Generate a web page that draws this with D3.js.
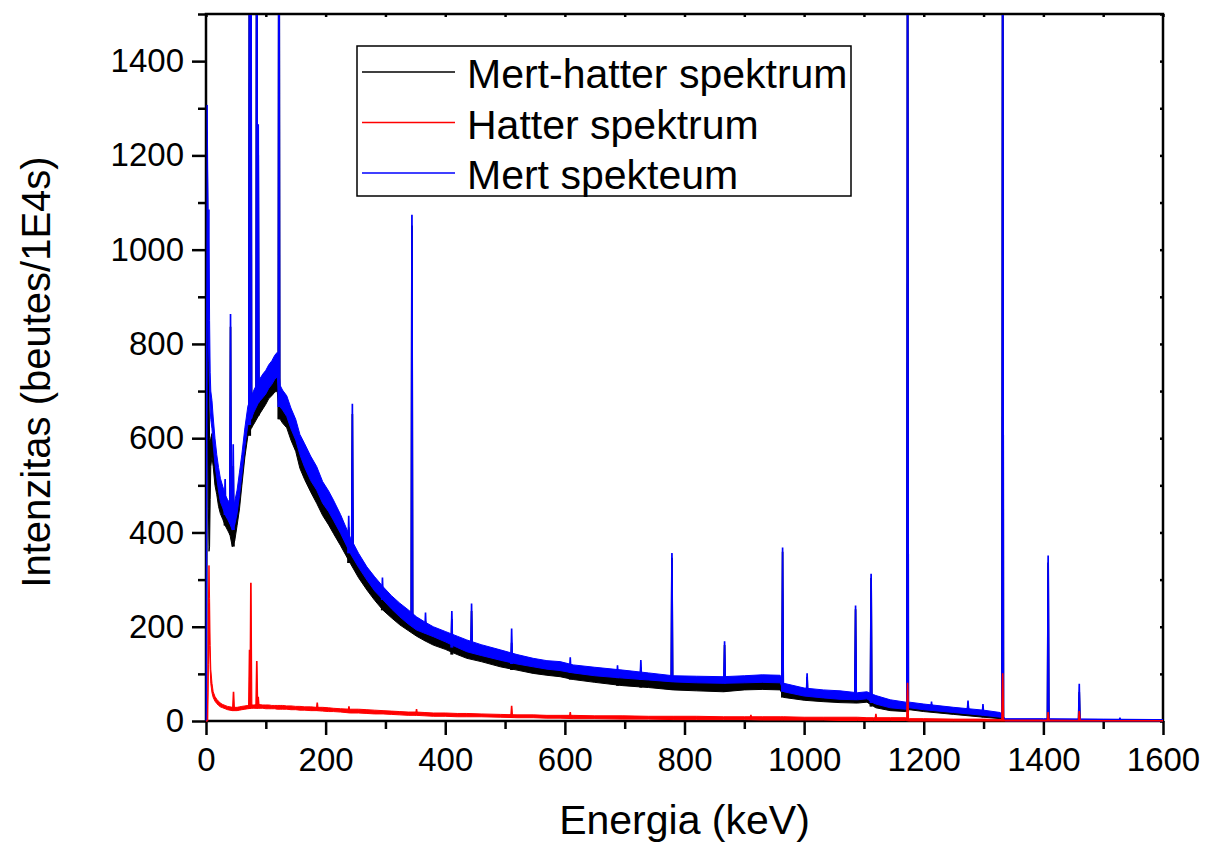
<!DOCTYPE html>
<html>
<head>
<meta charset="utf-8">
<script src="https://cdn.jsdelivr.net/npm/d3@7"></script>
<style>
  body { margin: 0; background: #fff; }
  svg { display: block; font-family: "Liberation Sans", Arial, sans-serif; }
  .axis path { display: none; }
  .axis line { stroke: #000; stroke-width: 2.5; }
  .axis text { font-size: 33px; fill: #000; }
</style>
</head>
<body>
<svg id="chart" width="1205" height="845"></svg>
<script>
var energy = [0,1,2,3,4,5,6,7,8,10,
  12,15,18,21,24,28,32,36,40,44,
  48,52,56,60,65,70,76,80,88,95,
  100,105,110,115,119,124,128,135,142,150,
  157,165,175,185,195,205,213,225,241,255,
  269,282,296,310,324,338,352,366,380,400,
  420,436,460,492,520,547,570,592,614,650,
  697,740,781,820,865,900,930,960,966,1000,
  1032,1060,1089,1105,1116,1120,1144,1170,1176,1200,
  1250,1300,1328,1336,1400,1500,1600];

// measured spectrum (upper / lower edge of the noise band)
var blueHi = [0,700,1307,1150,1000,1085,850,740,700,680,
  645,600,565,538,515,498,480,470,462,455,
  466,490,528,566,622,668,690,702,722,736,
  744,756,764,776,782,712,702,690,664,640,
  608,588,562,540,508,488,469,438,390,356,
  327,306,285,266,250,236,221,210,200,190,
  180,172,162,151,141,133,128,126,119,114,
  108,102,96,95,94,96,98,97,80,70,
  66,64,60,62,56,54,45,40,40,36,
  29,23,18,5,5,4,3];
var blueLo = [0,0,900,850,800,760,700,660,640,620,
  585,545,515,488,465,452,437,428,418,405,
  416,440,478,522,582,628,642,655,676,686,
  694,706,714,725,730,666,660,646,620,596,
  565,538,510,490,462,444,426,398,356,326,
  299,276,257,238,221,206,193,186,179,168,
  156,147,139,129,121,115,110,107,102,96,
  91,87,83,81,80,81,82,81,62,53,
  49,46,45,47,38,36,28,25,28,24,
  18,12,8,0,0,0,0];

// measured minus background
var blackHi = [0,650,1250,1100,900,700,600,590,600,610,
  590,555,525,500,480,465,450,440,433,428,
  438,462,500,538,592,638,660,670,690,704,
  712,724,732,744,750,680,670,660,634,610,
  578,558,532,512,480,460,442,412,365,332,
  303,283,263,245,230,217,202,192,183,173,
  164,156,147,137,128,120,116,114,107,103,
  97,92,86,85,85,87,89,88,71,62,
  58,56,52,55,49,47,38,33,35,31,
  25,19,15,3,3,3,2];
var blackLo = [0,0,700,600,450,360,370,470,540,560,
  540,500,480,455,440,428,415,405,395,370,
  382,415,450,500,560,605,622,630,648,662,
  672,684,690,698,700,640,632,622,596,572,
  536,512,486,462,436,416,398,372,335,304,
  278,256,235,219,204,192,180,170,161,152,
  141,133,126,115,108,101,97,94,88,82,
  75,71,66,64,62,66,67,66,50,44,
  41,39,38,40,31,28,22,20,24,20,
  14,8,5,0,0,0,0];

// background spectrum
var redHi = [0,0,0,60,250,330,260,160,110,80,
  62,52,46,42,38,35,33,31,30,29,
  29,29,30,31,32,33,34,34,35,34,
  34,34,33,33,33,33,33,32,32,31,
  31,30,30,29,29,28,27,26,25,25,
  24,23,22,21,20,19,19,18,17,17,
  16,16,15,14,13,13,12,12,12,11,
  11,10,10,10,9,9,9,9,9,8,
  8,8,8,7,7,7,7,7,5,5,
  4,4,3,2,2,1,1];
var redLo = [0,0,0,0,120,250,160,110,80,60,
  50,42,37,33,30,28,26,24,23,22,
  22,22,23,24,25,26,27,27,27,27,
  26,26,26,26,25,25,25,25,24,24,
  23,23,22,22,21,20,20,19,17,17,
  16,15,15,14,13,12,12,11,10,10,
  9,9,9,8,7,7,6,6,5,5,
  4,4,3,3,3,3,2,2,2,2,
  2,1,1,1,1,1,1,1,0,0,
  0,0,0,0,0,0,0];

// peaks: [energy keV, peak height]
var bluePeaks = [[32,512],[41,862],[45.5,586],[72.8,2000],[75,2000],[84.9,2000],[87.3,1265],
  [122,2000],[238.6,434],[244.7,672],[295,303],[344.3,1073],[367,229],[411,232],[444,248],
  [511,195],[609,134],[688,117],[727,128],[779,355],[867,168],[964,367],[1005,100],
  [1086,244],[1112,311],[1173,2000],[1213,40],[1274,42],[1299,35],[1332,2000],
  [1408,350],[1460,78],[1528,6]];
var blackPeaks = [[32,480],[41,835],[45.5,540],[72.8,2000],[75,1800],[84.9,2000],[87.3,1200],
  [122,2000],[238.6,410],[244.7,650],[295,280],[344.3,1050],[367,210],[411,215],[444,232],
  [511,165],[609,115],[688,100],[727,112],[779,345],[867,160],[964,358],[1005,92],
  [1086,236],[1112,302],[1173,2000],[1213,35],[1274,38],[1299,30],[1332,2000],
  [1408,335],[1460,60]];
var redPeaks = [[46,61],[72.8,150],[75,292],[84.9,126],[87.3,50],[186,38],[239,30],[352,24],
  [511,31],[609,18],[911,12],[1120,14],[1173,80],[1332,100],[1408,18],[1460,20]];

var xTicks = [0,200,400,600,800,1000,1200,1400,1600];
var xMinor = [100,300,500,700,900,1100,1300,1500];
var yTicks = [0,200,400,600,800,1000,1200,1400];
var yMinor = [100,300,500,700,900,1100,1300,1500];

var legendLabels = ["Mert-hatter spektrum", "Hatter spektrum", "Mert spekteum"];
var legendColors = ["#000000", "#ff0000", "#0000ff"];

// margins of the plot frame
var margin = { top: 14, right: 42, bottom: 124, left: 206 };
var width = 1205 - margin.left - margin.right;
var height = 845 - margin.top - margin.bottom;

var svg = d3.select("#chart");
var g = svg.append("g")
    .attr("transform", "translate(" + margin.left + "," + margin.top + ")");

var x = d3.scaleLinear().domain([0, 1600]).range([0, width]);
var y = d3.scaleLinear().domain([0, 1500]).range([height, 0]);

// axes first, the spectra are drawn over them
g.append("g").attr("class", "axis")
    .attr("transform", "translate(0," + height + ")")
    .call(d3.axisBottom(x).tickValues(xMinor).tickSize(8).tickSizeOuter(0).tickFormat(""));
g.append("g").attr("class", "axis")
    .attr("transform", "translate(0," + height + ")")
    .call(d3.axisBottom(x).tickValues(xTicks).tickSize(14).tickSizeOuter(0).tickPadding(13)
      .tickFormat(d3.format("d")));
g.append("g").attr("class", "axis")
    .call(d3.axisLeft(y).tickValues(yMinor).tickSize(8).tickSizeOuter(0).tickFormat(""));
g.append("g").attr("class", "axis")
    .call(d3.axisLeft(y).tickValues(yTicks).tickSize(14).tickSizeOuter(0).tickPadding(8)
      .tickFormat(d3.format("d")));
g.append("g").attr("class", "axis")
    .call(d3.axisTop(x).tickValues(xTicks.concat(xMinor)).tickSize(-3).tickSizeOuter(0).tickFormat(""));
g.append("g").attr("class", "axis")
    .attr("transform", "translate(" + width + ",0)")
    .call(d3.axisRight(y).tickValues(yTicks.concat(yMinor)).tickSize(-3).tickSizeOuter(0).tickFormat(""));

g.append("rect")
    .attr("width", width)
    .attr("height", height)
    .attr("fill", "none")
    .attr("stroke", "#000")
    .attr("stroke-width", 2.5);

g.append("clipPath").attr("id", "clip")
  .append("rect").attr("x", -1).attr("y", 1).attr("width", width + 1).attr("height", height + 1);

var plot = g.append("g").attr("clip-path", "url(#clip)");

var area = d3.area()
    .x(function(d) { return x(d.e); })
    .y0(function(d) { return y(d.lo); })
    .y1(function(d) { return y(d.hi); });

var spikeLine = d3.line()
    .x(function(d) { return x(d[0]); })
    .y(function(d) { return y(d[1]); });

// draws one spectrum: noise band plus its peaks
function drawSeries(hi, lo, peaks, color) {
  var rows = energy.map(function(e, i) { return { e: e, hi: hi[i], lo: lo[i] }; });
  var s = plot.append("g");
  s.append("path")
      .datum(rows)
      .attr("d", area)
      .attr("fill", color)
      .attr("stroke", color)
      .attr("stroke-width", 1)
      .attr("stroke-linejoin", "round");
  s.selectAll("path.peak")
      .data(peaks)
    .enter().append("path")
      .attr("class", "peak")
      .attr("d", function(p) {
        var i = d3.minIndex(energy, function(e) { return Math.abs(e - p[0]); });
        var base = lo[i];
        return spikeLine([[p[0] - 1.6, base], [p[0] - 0.4, p[1]], [p[0] + 0.4, p[1]], [p[0] + 1.6, base]]);
      })
      .attr("fill", color)
      .attr("stroke", color)
      .attr("stroke-width", 1.2);
}

drawSeries(blackHi, blackLo, blackPeaks, "#000000");
drawSeries(blueHi, blueLo, bluePeaks, "#0000ff");
drawSeries(redHi, redLo, redPeaks, "#ff0000");

// axis titles
svg.append("text")
    .attr("x", margin.left + width / 2)
    .attr("y", 834)
    .attr("text-anchor", "middle")
    .style("font-size", "41px")
    .text("Energia (keV)");
svg.append("text")
    .attr("transform", "translate(50,372) rotate(-90)")
    .attr("text-anchor", "middle")
    .style("font-size", "40px")
    .text("Intenzitas (beutes/1E4s)");

// legend
var legend = svg.append("g").attr("transform", "translate(357,46)");
legend.append("rect")
    .attr("width", 494)
    .attr("height", 150)
    .attr("fill", "#fff")
    .attr("stroke", "#000")
    .attr("stroke-width", 1.5);
var item = legend.selectAll("g.item")
    .data(legendLabels)
  .enter().append("g")
    .attr("class", "item")
    .attr("transform", function(d, i) { return "translate(0," + (26 + i * 50.5) + ")"; });
item.append("line")
    .attr("x1", 5).attr("x2", 98)
    .attr("stroke", function(d, i) { return legendColors[i]; })
    .attr("stroke-width", 1.5);
item.append("text")
    .attr("x", 110)
    .attr("y", 16)
    .style("font-size", "41px")
    .text(function(d) { return d; });
</script>
</body>
</html>
